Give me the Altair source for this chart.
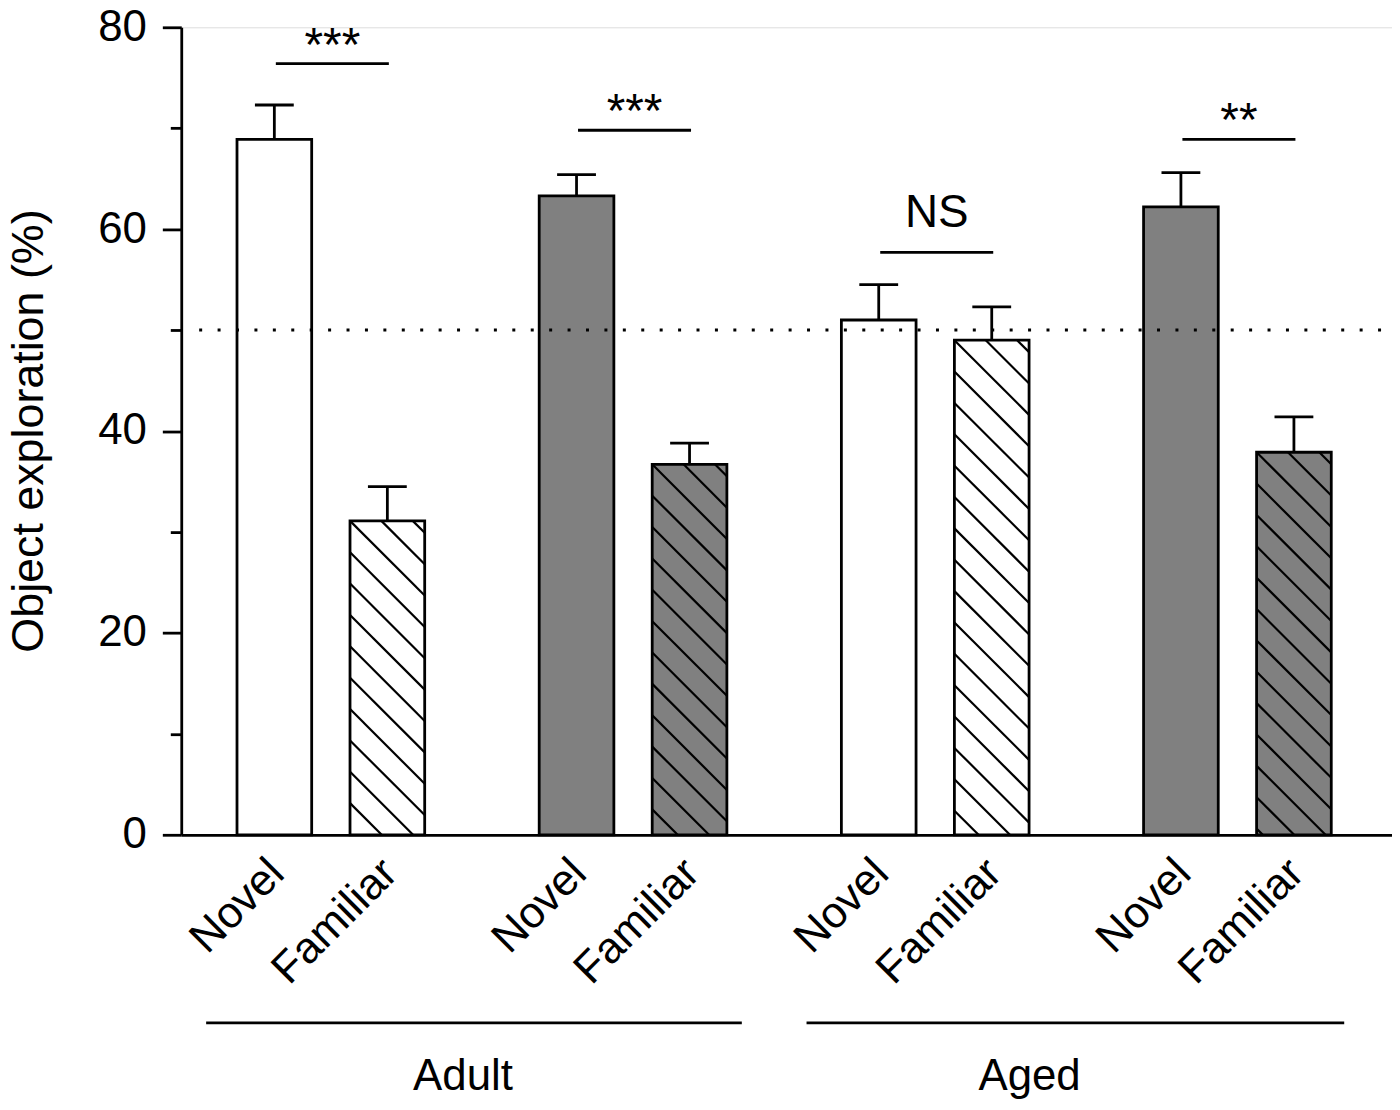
import altair as alt
import pandas as pd

# ---------------- data ----------------
groups = ["Adult", "Adult", "Adult", "Adult", "Aged", "Aged", "Aged", "Aged"]
objects = ["Novel", "Familiar", "Novel", "Familiar", "Novel", "Familiar", "Novel", "Familiar"]
fills = ["white", "white", "#808080", "#808080", "white", "white", "#808080", "#808080"]
hatched = [False, True, False, True, False, True, False, True]
means = [68.9, 31.1, 63.3, 36.7, 51.0, 49.0, 62.2, 37.9]
sems = [3.4, 3.4, 2.1, 2.1, 3.5, 3.3, 3.4, 3.5]

sig_labels = ["***", "***", "NS", "**"]
sig_heights = [76.4, 69.8, 57.7, 68.9]
chance_level = 50

group_names = ["Adult", "Aged"]

# ---------------- layout ----------------
PAD_LEFT, PAD_TOP, PAD_BOTTOM = 174, 17, 266
W, H = 1216, 811
Y_MAX = 80
PPU = H / Y_MAX  # pixels per y unit
FIRST_CENTER, PAIR_STEP, WITHIN_STEP = 93.5, 303.5, 113.5
BAR_W = 75
CAP_W = 39
HATCH_SPACING = 31.5
LW = 2.8
FONT = "Liberation Sans"

centers = [FIRST_CENTER + (i // 2) * PAIR_STEP + (i % 2) * WITHIN_STEP for i in range(len(means))]

bars = pd.DataFrame({
    "group": groups,
    "object": objects,
    "fill": fills,
    "mean": means,
    "top": [m + s for m, s in zip(means, sems)],
    "center": centers,
    "left": [c - BAR_W / 2 for c in centers],
    "right": [c + BAR_W / 2 for c in centers],
    "capl": [c - CAP_W / 2 for c in centers],
    "capr": [c + CAP_W / 2 for c in centers],
    "labx": [c + 3 for c in centers],
    "zero": [0] * len(means),
})

# hatch segments (45 deg) clipped to each hatched bar, derived from bar values
hrows = []
for i in range(len(means)):
    if not hatched[i]:
        continue
    L, R = bars.loc[i, "left"], bars.loc[i, "right"]
    U = means[i] * PPU
    kmin = -int((R - L) / HATCH_SPACING) - 2
    kmax = int(U / HATCH_SPACING) + 2
    for k in range(kmin, kmax + 1):
        c = L + U - k * HATCH_SPACING
        x1 = max(L, c - U)
        x2 = min(R, c)
        if x2 - x1 > 0.8:
            hrows.append({"x1": x1, "y1": (c - x1) / PPU, "x2": x2, "y2": (c - x2) / PPU})
hatch = pd.DataFrame(hrows)

sig = pd.DataFrame({
    "label": sig_labels,
    "h": sig_heights,
    "x1": [centers[2 * j] + 1.5 for j in range(4)],
    "x2": [centers[2 * j + 1] + 1.5 for j in range(4)],
})
sig["mid"] = (sig["x1"] + sig["x2"]) / 2
stars = sig[sig["label"] != "NS"]
ns = sig[sig["label"] == "NS"]

grp = pd.DataFrame({
    "name": group_names,
    "x1": [centers[0] - 68.5, centers[4] - 72.5],
    "x2": [centers[3] + 52.5, centers[7] + 50.5],
    "tx": [283, 852],
})

chance = pd.DataFrame({"y": [chance_level]})

# ---------------- scales / axes ----------------
xscale = alt.Scale(domain=[0, W], nice=False, zero=False)
yscale = alt.Scale(domain=[0, Y_MAX], nice=False)
xaxis = alt.Axis(labels=False, ticks=False, grid=False, title=None,
                 domainColor="black", domainWidth=LW)
yaxis = alt.Axis(
    values=list(range(0, 81, 10)),
    labelExpr="datum.value % 20 === 0 ? datum.label : ''",
    tickSize={"condition": {"test": "datum.value % 20 !== 0", "value": 11}, "value": 19},
    tickWidth=LW, tickColor="black", domainColor="black", domainWidth=LW,
    labelFontSize=44, labelFont=FONT, labelColor="black", labelPadding=16,
    labelBaseline="middle",
    grid=False,
    title="Object exploration (%)", titleFont=FONT, titleFontSize=45,
    titleFontWeight="normal", titleColor="black",
    titleAngle=270, titleAlign="center", titleBaseline="alphabetic",
    titleX=-139, titleY=405,
)


def X(f):
    return alt.X(f, type="quantitative", scale=xscale, axis=xaxis)


def Y(f):
    return alt.Y(f, type="quantitative", scale=yscale, axis=yaxis)


base = alt.Chart(bars)

bar_fill = base.mark_rect(strokeWidth=0).encode(
    x=X("left"), x2="right", y=Y("zero"), y2="mean",
    fill=alt.Fill("fill:N", scale=None),
)

hatch_layer = alt.Chart(hatch).mark_rule(color="black", strokeWidth=2.2).encode(
    x=X("x1"), x2="x2", y=Y("y1"), y2="y2",
)

bar_outline = base.mark_rect(fillOpacity=0, stroke="black", strokeWidth=LW).encode(
    x=X("left"), x2="right", y=Y("zero"), y2="mean",
)

err_stem = base.mark_rule(color="black", strokeWidth=LW).encode(
    x=X("center"), y=Y("mean"), y2="top",
)
err_cap = base.mark_rule(color="black", strokeWidth=LW).encode(
    x=X("capl"), x2="capr", y=Y("top"),
)

chance_line = alt.Chart(chance).mark_rule(
    color="black", strokeWidth=3, strokeDash=[3, 15.5]
).encode(
    y=Y("y"), x=alt.value(18), x2=alt.value(1205),
)

sig_lines = alt.Chart(sig).mark_rule(color="black", strokeWidth=LW).encode(
    x=X("x1"), x2="x2", y=Y("h"),
)
star_text = alt.Chart(stars).mark_text(
    font=FONT, fontSize=48, color="black", baseline="alphabetic", align="center", dy=-3
).encode(x=X("mid"), y=Y("h"), text="label:N")
ns_text = alt.Chart(ns).mark_text(
    font=FONT, fontSize=46, color="black", baseline="alphabetic", align="center", dy=-25
).encode(x=X("mid"), y=Y("h"), text="label:N")

obj_labels = base.mark_text(
    font=FONT, fontSize=44, color="black", angle=315, align="right", baseline="middle"
).encode(x=X("labx"), y=alt.value(843), text="object:N")

grp_lines = alt.Chart(grp).mark_rule(color="black", strokeWidth=LW).encode(
    x=X("x1"), x2="x2", y=alt.value(1000),
)
grp_text = alt.Chart(grp).mark_text(
    font=FONT, fontSize=44, color="black", align="center", baseline="alphabetic"
).encode(x=X("tx"), y=alt.value(1067), text="name:N")

chart = alt.layer(
    bar_fill, hatch_layer, bar_outline, err_stem, err_cap, chance_line,
    sig_lines, star_text, ns_text, obj_labels, grp_lines, grp_text,
).properties(
    width=W, height=H,
    autosize=alt.AutoSizeParams(type="none"),
    padding={"left": PAD_LEFT, "top": PAD_TOP, "right": 0, "bottom": PAD_BOTTOM},
).configure_view(stroke=None).configure(background="white")

chart.save("out.html", embed_options={"renderer": "svg", "actions": False})
